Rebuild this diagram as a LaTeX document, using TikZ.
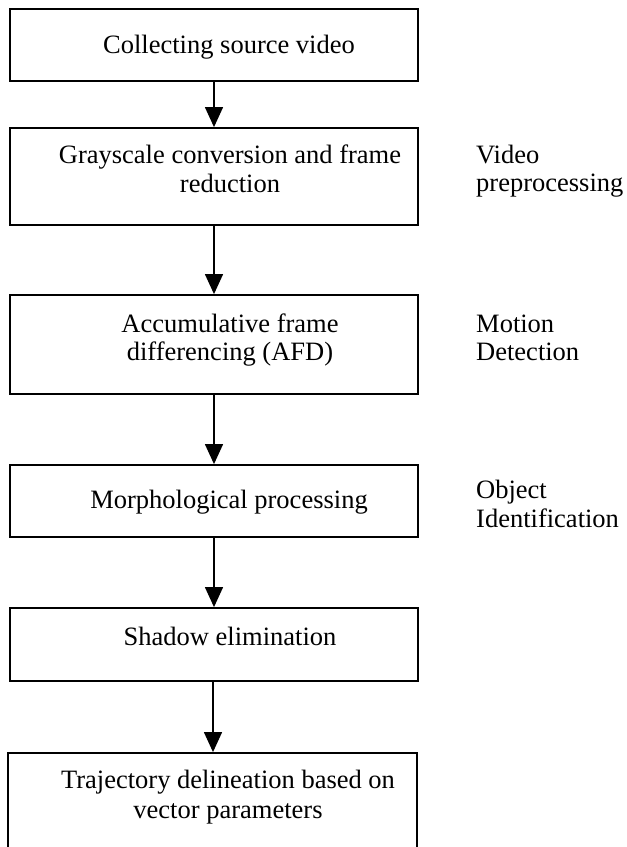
\documentclass[tikz,border=0pt]{standalone}
\usepackage{fontspec}
\setmainfont{Liberation Serif}
\usetikzlibrary{arrows.meta}
\begin{document}
\begin{tikzpicture}[x=1pt,y=-1pt,
  stepbox/.style={draw, line width=1.8pt, minimum width=408pt, inner sep=0pt},
  txt/.style={anchor=base, inner sep=0pt, font=\fontsize{26.5}{29}\selectfont},
  side/.style={anchor=base west, inner sep=0pt, font=\fontsize{26.5}{29}\selectfont},
  flow/.style={-{Triangle[length=20pt,width=18pt]}, line width=1.3pt}]
\useasboundingbox (0,0) rectangle (627,847);
\clip (0,0) rectangle (627,847);
% boxes
\node[stepbox, minimum height=72pt] (b1) at (214,45) {};
\node[stepbox, minimum height=97pt] (b2) at (214,176.5) {};
\node[stepbox, minimum height=99pt] (b3) at (214,344.5) {};
\node[stepbox, minimum height=72pt] (b4) at (214,501) {};
\node[stepbox, minimum height=73pt] (b5) at (214,644.5) {};
\node[stepbox, minimum width=409pt, minimum height=117pt] (b6) at (212.5,811.5) {};
% box texts
\node[txt] (t1) at (229,53) {Collecting source video};
\node[txt] (t2a) at (230,163) {Grayscale conversion and frame};
\node[txt] (t2b) at (230,192) {reduction};
\node[txt] (t3a) at (230,332) {Accumulative frame};
\node[txt] (t3b) at (230,360) {differencing (AFD)};
\node[txt] (t4) at (229,508) {Morphological processing};
\node[txt] (t5) at (230,645) {Shadow elimination};
\node[txt] (t6a) at (228,788) {Trajectory delineation based on};
\node[txt] (t6b) at (228,818) {vector parameters};
% side labels
\node[side] (s1a) at (476,163) {Video};
\node[side] (s1b) at (476,191) {preprocessing};
\node[side] (s2a) at (476,332) {Motion};
\node[side] (s2b) at (476,360) {Detection};
\node[side] (s3a) at (476,498) {Object};
\node[side] (s3b) at (476,527) {Identification};
% connectors
\draw[flow] (b1.south) -- (b2.north);
\draw[flow] (b2.south) -- (b3.north);
\draw[flow] (b3.south) -- (b4.north);
\draw[flow] (b4.south) -- (b5.north);
\draw[flow] ([xshift=-1pt]b5.south) -- ([xshift=-1pt]b5.south |- b6.north);
\end{tikzpicture}
\end{document}
